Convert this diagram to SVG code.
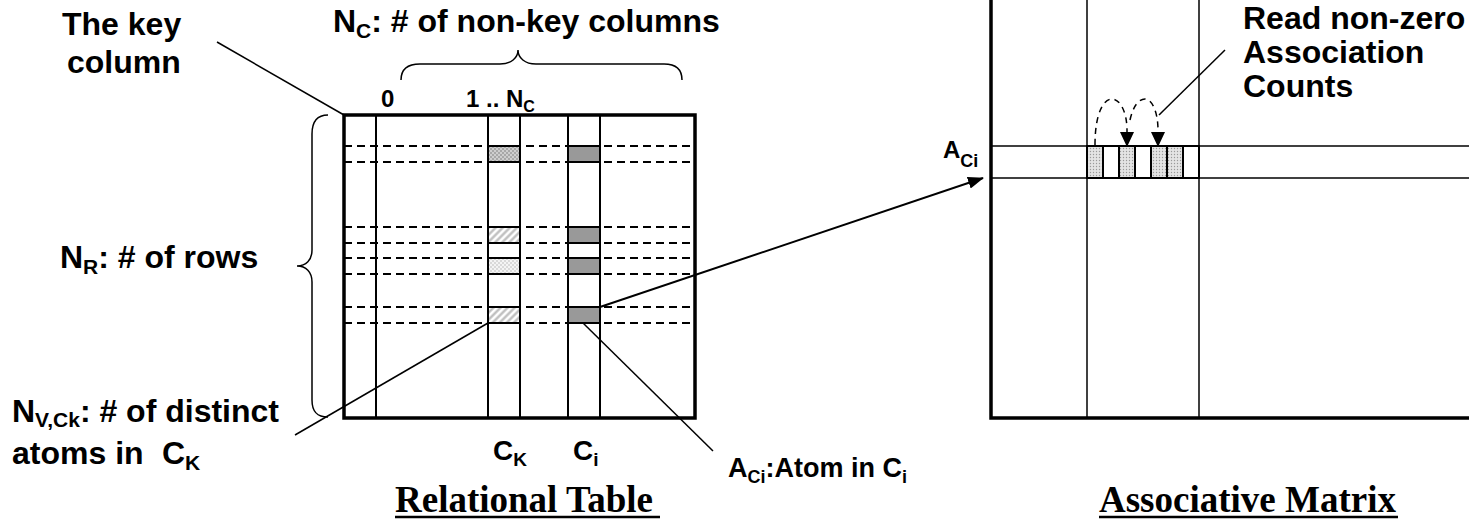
<svg xmlns="http://www.w3.org/2000/svg" width="1469" height="519" viewBox="0 0 1469 519">
<style>
.lbl{font-family:"Liberation Sans",Arial,sans-serif;font-weight:bold;fill:#000}
.ttl{font-family:"Liberation Serif","Times New Roman",serif;font-weight:bold;fill:#000}
.thin{stroke:#000;stroke-width:1.5;fill:none}
.col{stroke:#000;stroke-width:2;fill:none}
.border{stroke:#000;stroke-width:3.5;fill:none}
.dash{stroke:#000;stroke-width:2;stroke-dasharray:8 5;fill:none}
.cell{stroke:#000;stroke-width:2}
.arc{stroke:#000;stroke-width:1.5;stroke-dasharray:6 5;fill:none}
</style>
<defs>
<pattern id="dotsDark" width="4" height="4" patternUnits="userSpaceOnUse">
<rect width="4" height="4" fill="#a8a8a8"/>
<circle cx="1" cy="1" r="0.8" fill="#fff"/>
<circle cx="3" cy="3" r="0.8" fill="#fff"/>
</pattern>
<pattern id="hatch" width="5" height="5" patternUnits="userSpaceOnUse" patternTransform="rotate(45)">
<rect width="5" height="5" fill="#fff"/>
<line x1="1.5" y1="0" x2="1.5" y2="5" stroke="#b8b8b8" stroke-width="2.2"/>
</pattern>
<pattern id="dotsLight" width="4" height="4" patternUnits="userSpaceOnUse">
<rect width="4" height="4" fill="#f4f4f4"/>
<circle cx="1" cy="1" r="0.7" fill="#aaa"/>
<circle cx="3" cy="3" r="0.7" fill="#aaa"/>
</pattern>
<pattern id="dotsMatrix" width="3" height="3" patternUnits="userSpaceOnUse">
<rect width="3" height="3" fill="#e4e4e4"/>
<circle cx="1.5" cy="1.5" r="0.7" fill="#9a9a9a"/>
</pattern>
<marker id="arrow" markerWidth="16" markerHeight="12" refX="15" refY="6" orient="auto" markerUnits="userSpaceOnUse">
<path d="M0,0 L16,6 L0,12 Z" fill="#000"/>
</marker>
<marker id="arrowSmall" markerWidth="15" markerHeight="14" refX="14" refY="7" orient="auto" markerUnits="userSpaceOnUse">
<path d="M0,0 L15,7 L0,14 Z" fill="#000"/>
</marker>
</defs>

<g id="relational-table">
<rect x="488" y="146" width="32" height="16" fill="url(#dotsDark)" class="cell"/>
<rect x="488" y="227" width="32" height="16" fill="url(#hatch)" class="cell"/>
<rect x="488" y="258" width="32" height="16" fill="url(#dotsLight)" class="cell"/>
<rect x="488" y="307" width="32" height="16" fill="url(#hatch)" class="cell"/>
<rect x="568" y="146" width="32" height="16" fill="#999" class="cell"/>
<rect x="568" y="227" width="32" height="16" fill="#999" class="cell"/>
<rect x="568" y="258" width="32" height="16" fill="#999" class="cell"/>
<rect x="568" y="307" width="32" height="16" fill="#999" class="cell"/>
<line x1="344" y1="146" x2="695" y2="146" class="dash"/>
<line x1="344" y1="162" x2="695" y2="162" class="dash"/>
<line x1="344" y1="227" x2="695" y2="227" class="dash"/>
<line x1="344" y1="243" x2="695" y2="243" class="dash"/>
<line x1="344" y1="258" x2="695" y2="258" class="dash"/>
<line x1="344" y1="274" x2="695" y2="274" class="dash"/>
<line x1="344" y1="307" x2="695" y2="307" class="dash"/>
<line x1="344" y1="323" x2="695" y2="323" class="dash"/>
<line x1="376" y1="115" x2="376" y2="418" class="col"/>
<line x1="488" y1="115" x2="488" y2="418" class="col"/>
<line x1="520" y1="115" x2="520" y2="418" class="col"/>
<line x1="568" y1="115" x2="568" y2="418" class="col"/>
<line x1="600" y1="115" x2="600" y2="418" class="col"/>
<rect x="344" y="115" width="351" height="303" class="border"/>
<text class="lbl" x="381" y="107" font-size="24">0</text>
<text class="lbl" x="466" y="107" font-size="24">1 .. N<tspan font-size="16" dy="5">C</tspan></text>
<text class="lbl" x="493" y="460" font-size="28">C<tspan font-size="19" dy="6">K</tspan></text>
<text class="lbl" x="573" y="460" font-size="28">C<tspan font-size="19" dy="6">i</tspan></text>
<text class="ttl" x="395" y="512" font-size="37">Relational Table</text>
<line x1="395" y1="517" x2="660" y2="517" stroke="#000" stroke-width="2.5"/>
</g>

<g id="brace-columns">
<path class="thin" d="M401,80 C401,69 407,64 420,64 L500,64 C511,64 518,58 518,50 C518,58 525,64 536,64 L664,64 C676,64 682,69 682,80"/>
<text class="lbl" x="333" y="32" font-size="32">N<tspan font-size="21" dy="6">C</tspan><tspan dy="-6">: # of non-key columns</tspan></text>
</g>

<g id="brace-rows">
<path class="thin" d="M328,115 C317,115 312,121 312,134 L312,250 C312,260 306,266 297,266 C306,266 312,272 312,282 L312,400 C312,412 317,417 328,417"/>
<text class="lbl" x="60" y="268" font-size="32">N<tspan font-size="21" dy="6">R</tspan><tspan dy="-6">: # of rows</tspan></text>
</g>

<g id="key-column-label">
<text class="lbl" x="62" y="35" font-size="32">The key</text>
<text class="lbl" x="67" y="73" font-size="32">column</text>
</g>

<g id="distinct-label">
<text class="lbl" x="12" y="422" font-size="32">N<tspan font-size="21" dy="5">V,Ck</tspan><tspan dy="-5">: # of distinct</tspan></text>
<text class="lbl" x="12" y="464" font-size="32">atoms in</text>
<text class="lbl" x="162" y="464" font-size="32">C<tspan font-size="21" dy="6">K</tspan></text>
</g>

<g id="atom-label">
<text class="lbl" x="728" y="477" font-size="27">A<tspan font-size="18" dy="6">Ci</tspan><tspan dy="-6">:Atom in C</tspan><tspan font-size="18" dy="6">i</tspan></text>
</g>

<g id="associative-matrix">
<rect x="1087" y="146" width="16" height="32" fill="url(#dotsMatrix)" class="cell"/>
<rect x="1103" y="146" width="16" height="32" fill="#fff" class="cell"/>
<rect x="1119" y="146" width="16" height="32" fill="url(#dotsMatrix)" class="cell"/>
<rect x="1135" y="146" width="16" height="32" fill="#fff" class="cell"/>
<rect x="1151" y="146" width="16" height="32" fill="url(#dotsMatrix)" class="cell"/>
<rect x="1167" y="146" width="16" height="32" fill="url(#dotsMatrix)" class="cell"/>
<rect x="1183" y="146" width="16" height="32" fill="#fff" class="cell"/>
<line x1="991" y1="146" x2="1469" y2="146" class="thin"/>
<line x1="991" y1="178" x2="1469" y2="178" class="thin"/>
<line x1="1087" y1="0" x2="1087" y2="418" class="thin"/>
<line x1="1199" y1="0" x2="1199" y2="418" class="thin"/>
<path d="M991,-5 L991,418 L1475,418" stroke="#000" stroke-width="3.5" fill="none"/>
<text class="lbl" x="943" y="158" font-size="24">A<tspan font-size="18" dy="9">Ci</tspan></text>
<text class="ttl" x="1099" y="512" font-size="37">Associative Matrix</text>
<line x1="1099" y1="517" x2="1398" y2="517" stroke="#000" stroke-width="2.5"/>
</g>

<g id="read-label">
<text class="lbl" x="1243" y="29" font-size="32">Read non-zero</text>
<text class="lbl" x="1243" y="63" font-size="32">Association</text>
<text class="lbl" x="1243" y="97" font-size="32">Counts</text>
</g>

<g id="connectors">
<line x1="217" y1="42" x2="344" y2="115" class="thin"/>
<line x1="295" y1="435" x2="488" y2="323" class="thin"/>
<line x1="583" y1="323" x2="713" y2="451" class="thin"/>
<line x1="600" y1="307" x2="983" y2="178" stroke="#000" stroke-width="2" marker-end="url(#arrow)"/>
<line x1="1159" y1="115" x2="1225" y2="50" class="thin"/>
<path class="arc" d="M1095,145 C1095,112 1104,99 1112,99 C1120,99 1127,112 1127,130 L1127,146" marker-end="url(#arrowSmall)"/>
<path class="arc" d="M1130,120 C1133,106 1139,99 1145,99 C1152,99 1158,112 1158,130 L1158,146" marker-end="url(#arrowSmall)"/>
</g>
</svg>
